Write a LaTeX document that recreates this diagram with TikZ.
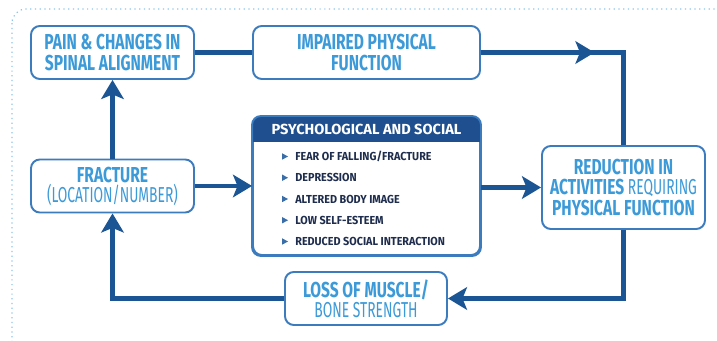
\documentclass[tikz,border=0pt]{standalone}
\usepackage{fontspec}
\setmainfont{Fira Sans}
\newfontfamily\condfont[FakeStretch=0.72]{Fira Sans}
\newfontfamily\lightfont[FakeStretch=0.64]{Fira Sans}
\newfontfamily\itemfont[FakeStretch=0.93]{Fira Sans}
\usetikzlibrary{arrows.meta, positioning, calc}

\definecolor{linkblue}{HTML}{1B5593}
\definecolor{edgeblue}{HTML}{3B7BBE}
\definecolor{textblue}{HTML}{3C9AD8}
\definecolor{headblue}{HTML}{1F4F8E}
\definecolor{itemnavy}{HTML}{1E2D4D}
\definecolor{bulletblue}{HTML}{3A6EA8}
\definecolor{dotblue}{HTML}{8EC5EC}

\newcommand{\thin}[1]{{\lightfont\mdseries #1}}

\begin{document}
\begin{tikzpicture}[
  box/.style={rectangle, rounded corners=5pt, draw=edgeblue, line width=1.1pt, fill=white,
              text=textblue, align=center, minimum height=1.06cm,
              font=\condfont\bfseries\fontsize{12.3}{11.4}\selectfont},
  head/.style={text=white, font=\bfseries\fontsize{8.3}{9}\selectfont, inner sep=0pt},
  item/.style={anchor=west, text=itemnavy, inner sep=0pt,
               font=\itemfont\bfseries\fontsize{6.6}{7}\selectfont},
  link/.style={draw=linkblue, line width=2.3pt},
  arr/.style={-{Stealth[length=0.38cm, width=0.45cm, inset=0.09cm]}, draw=linkblue, line width=2.3pt}]

  \useasboundingbox (0,0) rectangle (14.34,-6.82);
  \clip (0,0) rectangle (14.34,-6.82);

  \draw[dotblue, dotted, line width=0.7pt, rounded corners=8pt] (0.24,-0.18) rectangle (15.0,-8.0);

  \node[box, minimum width=3.26cm] at (2.25, -1.05) (pain)
    {PAIN \& CHANGES IN\\SPINAL ALIGNMENT};

  \node[box, minimum width=4.54cm] at (7.33, -1.05) (impaired)
    {IMPAIRED PHYSICAL\\FUNCTION};

  \node[box, minimum width=3.26cm] at (2.25, -3.72) (fracture)
    {FRACTURE\\\thin{(LOCATION/NUMBER)}};

  \node[box, minimum width=4.54cm, minimum height=2.76cm] at (7.33, -3.72) (psych) {};

  \node[box, minimum width=3.26cm, minimum height=1.66cm] at (12.47, -3.75) (reduction)
    {REDUCTION IN\\ACTIVITIES \thin{REQUIRING}\\PHYSICAL FUNCTION};

  \node[box, minimum width=3.24cm] at (7.32, -5.97) (loss)
    {LOSS OF MUSCLE/\\\thin{BONE STRENGTH}};

  \begin{scope}
    \clip[rounded corners=5pt] (psych.north west) rectangle (psych.south east);
    \fill[headblue] (psych.north west) rectangle ($(psych.north east)+(0,-0.52)$);
  \end{scope}
  \draw[edgeblue, line width=1.1pt, rounded corners=5pt] (psych.north west) rectangle (psych.south east);
  \node[head] at ($(psych.north)+(0,-0.27)$) (psychhead) {PSYCHOLOGICAL AND SOCIAL};

  \foreach \txt [count=\i] in {FEAR OF FALLING/FRACTURE, DEPRESSION, ALTERED BODY IMAGE,
                               LOW SELF-ESTEEM, REDUCED SOCIAL INTERACTION} {
    \fill[bulletblue] (5.64, -2.705-0.425*\i+0.065) -- ++(0.12,-0.065) -- ++(-0.12,-0.065) -- cycle;
    \node[item] at (5.9, -2.705-0.425*\i) (item\i) {\txt};
  }

  \draw[link] (pain.east) -- (impaired.west);
  \draw[link] (impaired.east) -| (reduction.north);
  \draw[arr] (impaired.east) -- ++(2.27,0);
  \draw[arr] (fracture.north) -- (pain.south);
  \draw[arr] (fracture.east) -- (psych.west |- fracture.east);
  \draw[arr] (psych.east |- reduction.west) -- (reduction.west);
  \draw[arr] (reduction.south) |- (loss.east);
  \draw[arr] (loss.west) -| (fracture.south);

\end{tikzpicture}
\end{document}
